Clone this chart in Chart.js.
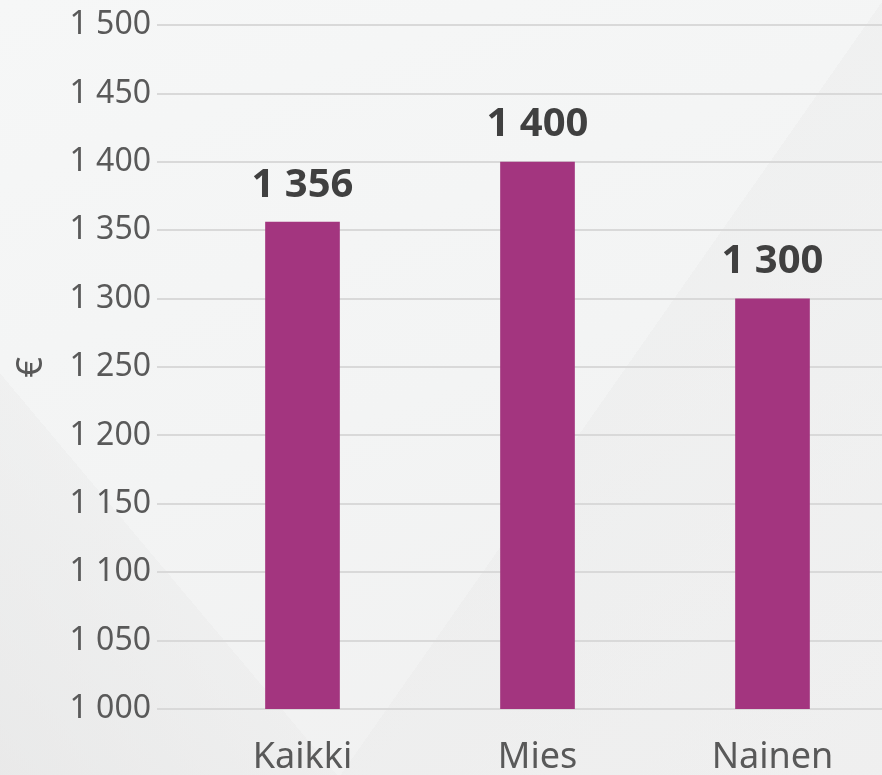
<!DOCTYPE html>
<html>
<head>
<meta charset="utf-8">
<script src="https://cdn.jsdelivr.net/npm/chart.js@4/dist/chart.umd.min.js"></script>
<style>
  html, body { margin: 0; padding: 0; overflow: hidden; }
  body {
    width: 882px; height: 775px;
    background:
      linear-gradient(50deg, rgba(226,226,226,0.55) 0%, rgba(232,232,232,0.35) 22%, rgba(255,255,255,0) 22%),
      linear-gradient(125deg, rgba(255,255,255,0) 0%, rgba(255,255,255,0) 62%, rgba(232,232,232,0.35) 62%, rgba(236,236,236,0.2) 100%),
      linear-gradient(160deg, #f6f7f7 0%, #f3f4f4 50%, #f0f0f0 100%);
  }
  #wrap { width: 890px; height: 775px; position: relative; }
</style>
</head>
<body>
<div id="wrap"><canvas id="chart"></canvas></div>
<script>
// values
const categories = ['Kaikki', 'Mies', 'Nainen'];
const values = [1356, 1400, 1300];
const yMin = 1000;
const yMax = 1500;
const yStep = 50;
const yTitle = '€';

function fmt(n) {
  const s = String(n);
  return s.length > 3 ? s.slice(0, s.length - 3) + ' ' + s.slice(-3) : s;
}

const fontFamily = '"Noto Sans", "Open Sans", sans-serif';

// labels over the bars
const valueLabels = {
  id: 'valueLabels',
  afterDatasetsDraw(chart) {
    const ctx = chart.ctx;
    const meta = chart.getDatasetMeta(0);
    ctx.save();
    ctx.font = 'bold 40px ' + fontFamily;
    ctx.fillStyle = '#404040';
    ctx.textAlign = 'center';
    ctx.textBaseline = 'middle';
    meta.data.forEach((bar, i) => {
      ctx.fillText(fmt(values[i]), bar.x, bar.y - 37);
    });
    ctx.restore();
  }
};

new Chart(document.getElementById('chart'), {
  type: 'bar',
  data: {
    labels: categories,
    datasets: [{
      data: values,
      backgroundColor: '#a3357f',
      barThickness: 74
    }]
  },
  options: {
    responsive: true,
    maintainAspectRatio: false,
    animation: false,
    layout: { padding: { top: 6, right: 0, bottom: 0, left: 0 } },
    plugins: {
      legend: { display: false },
      tooltip: { enabled: false }
    },
    scales: {
      x: {
        afterFit(scale) { scale.height = 66; },
        grid: { display: false },
        border: { display: false },
        ticks: {
          color: '#595959',
          font: { family: fontFamily, size: 36 },
          padding: 19
        }
      },
      y: {
        min: yMin,
        max: yMax,
        afterFit(scale) { scale.width = 185; },
        border: { display: false },
        grid: { color: '#d9d9d9', lineWidth: 2, tickLength: 28 },
        ticks: {
          stepSize: yStep,
          color: '#595959',
          font: { family: fontFamily, size: 32 },
          padding: 6,
          callback: (v) => fmt(v)
        },
        title: {
          display: true,
          text: yTitle,
          color: '#595959',
          font: { family: fontFamily, size: 36 },
          padding: { top: 10, bottom: 0 }
        }
      }
    }
  },
  plugins: [valueLabels]
});
</script>
</body>
</html>
